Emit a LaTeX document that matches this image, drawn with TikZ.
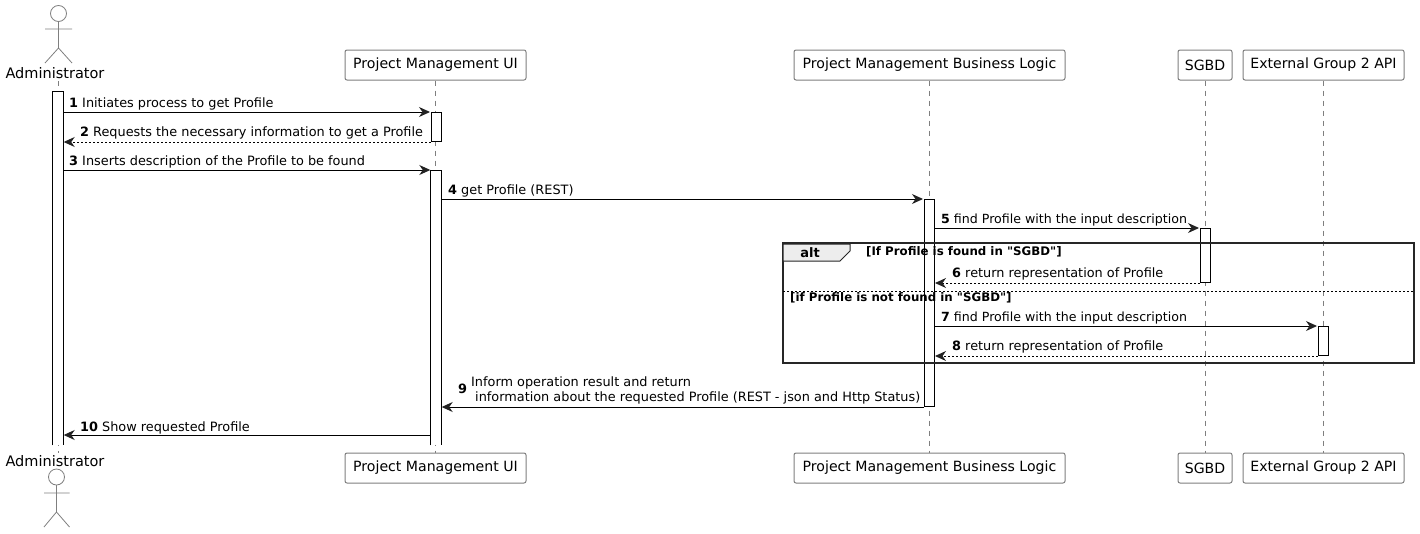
\documentclass[tikz,border=0pt]{standalone}
\usepackage{fontspec}
\setmainfont{DejaVu Sans}
\newfontfamily\guardfont{DejaVu Sans}
\usetikzlibrary{arrows.meta, positioning, calc}
\definecolor{edgegray}{HTML}{7F7F7F}
\definecolor{inkdark}{HTML}{222222}
\begin{document}
\begin{tikzpicture}[
    x=1pt, y=-1pt,
    participant/.style={draw=edgegray, fill=white, rounded corners=2pt, line width=1pt, minimum height=30pt, inner sep=0pt, font=\fontsize{14.1}{16}\selectfont},
    actorlabel/.style={inner sep=0pt, anchor=base, font=\fontsize{14.5}{16}\selectfont},
    lifeline/.style={draw=edgegray, line width=0.8pt, dash pattern=on 5pt off 5pt},
    actorline/.style={draw=edgegray, line width=0.8pt},
    activation/.style={draw=black, fill=white, line width=1pt, minimum width=10pt, inner sep=0pt, anchor=north},
    openbar/.style={fill=white, minimum width=10pt, inner sep=0pt, anchor=north},
    msg/.style={draw=black, line width=1pt, -{Stealth[length=11pt, width=10pt, inset=3.5pt, inkdark]}, shorten >=0.5pt},
    reply/.style={msg, dash pattern=on 2pt off 2pt},
    msgtext/.style={inner sep=0pt, anchor=base west, font=\fontsize{12.85}{15}\selectfont},
    guard/.style={inner sep=0pt, anchor=base west, font=\fontsize{11.8}{13}\guardfont\bfseries}
]
\useasboundingbox (0,0) rectangle (1420,533);

% Participants
\node[participant, minimum width=181pt] (ui) at (435.5,65) {Project Management UI};
\node[participant, minimum width=271pt] (bl) at (929.5,65) {Project Management Business Logic};
\node[participant, minimum width=54pt] (db) at (1205,65) {SGBD};
\node[participant, minimum width=161pt] (api) at (1323.5,65) {External Group 2 API};
\node[participant, minimum width=181pt] (uib) at (435.5,468) {Project Management UI};
\node[participant, minimum width=271pt] (blb) at (929.5,468) {Project Management Business Logic};
\node[participant, minimum width=54pt] (dbb) at (1205,468) {SGBD};
\node[participant, minimum width=161pt] (apib) at (1323.5,468) {External Group 2 API};
\node[actorlabel] (admin) at (55,78) {Administrator};
\node[actorlabel] (adminb) at (55,466) {Administrator};

% Actors
\draw[actorline] (58.5,13.5) circle (8pt);
\draw[actorline] (58.5,21.5) -- (58.5,48) (45,29) -- (72,29) (45,63) -- (58.5,48) -- (72,63);
\draw[actorline] (56.5,477) circle (8pt);
\draw[actorline] (56.5,485) -- (56.5,512) (44,493) -- (69.5,493) (44,527) -- (56.5,512) -- (69.5,527);

% Lifelines
\coordinate (admintop) at (58,81);
\coordinate (adminbot) at (58,453);
\draw[lifeline] (admintop) -- (adminbot);
\draw[lifeline] (ui) -- (uib);
\draw[lifeline] (bl) -- (blb);
\draw[lifeline] (db) -- (dbb);
\draw[lifeline] (api) -- (apib);

% Activations
\node[openbar, minimum height=354pt] (baradmin) at (58,91) {};
\draw[line width=1pt] (baradmin.south west) -- (baradmin.north west) -- (baradmin.north east) -- (baradmin.south east);
\node[activation, minimum height=29pt] (baruia) at (436,112) {};
\node[openbar, minimum height=275pt] (baruib) at (436,170) {};
\draw[line width=1pt] (baruib.south west) -- (baruib.north west) -- (baruib.north east) -- (baruib.south east);
\node[activation, minimum height=207pt] (barbl) at (929,199) {};
\node[activation, minimum height=54pt] (bardb) at (1205,228) {};
\node[activation, minimum height=29pt] (barapi) at (1323,326) {};

% Alt frame
\draw[line width=2pt, draw=black!85] (782.5,243) rectangle (1414,362.5);
\coordinate (tabstart) at (783,244);
\filldraw[fill=black!7, draw=black!85, line width=1pt] (tabstart) -- (850,244) -- (850,251) -- (840,261) -- (783,261) -- cycle;
\node[inner sep=0pt, anchor=base, font=\fontsize{13}{15}\selectfont\bfseries] (alttag) at (810,257) {alt};
\node[guard] (guardfound) at (866,255.5) {[If Profile is found in "SGBD"]};
\coordinate (elsestart) at (783,291);
\coordinate (elseend) at (1414,291);
\draw[line width=1pt, dash pattern=on 2pt off 2pt] (elsestart) -- (elseend);
\node[guard] (guardnot) at (790,301) {[if Profile is not found in "SGBD"]};

% Messages
\coordinate (m9) at (barbl.south west);
\coordinate (m10) at (baruib.west |- 0,435);
\draw[msg] (baradmin.east |- baruia.north) -- (baruia.north west);
\draw[reply] (baruia.south west) -- (baradmin.east |- baruia.south);
\draw[msg] (baradmin.east |- baruib.north) -- (baruib.north west);
\draw[msg] (baruib.east |- barbl.north) -- (barbl.north west);
\draw[msg] (barbl.east |- bardb.north) -- (bardb.north west);
\draw[reply] (bardb.south west) -- (barbl.east |- bardb.south);
\draw[msg] (barbl.east |- barapi.north) -- (barapi.north west);
\draw[reply] (barapi.south west) -- (barbl.east |- barapi.south);
\draw[msg] (m9) -- (baruib.east |- m9);
\draw[msg] (m10) -- (baradmin.east |- m10);

% Message labels
\node[msgtext] (t1) at (69,107) {\textbf{1} Initiates process to get Profile};
\node[msgtext] (t2) at (80,136) {\textbf{2} Requests the necessary information to get a Profile};
\node[msgtext] (t3) at (69,165) {\textbf{3} Inserts description of the Profile to be found};
\node[msgtext] (t4) at (448,194) {\textbf{4} get Profile (REST)};
\node[msgtext, font=\fontsize{12.6}{15}\selectfont] (t5) at (941,223.5) {\textbf{5} find Profile with the input description};
\node[msgtext] (t6) at (952,277) {\textbf{6} return representation of Profile};
\node[msgtext, font=\fontsize{12.6}{15}\selectfont] (t7) at (941,321) {\textbf{7} find Profile with the input description};
\node[msgtext] (t8) at (952,350) {\textbf{8} return representation of Profile};
\node[msgtext] (t9) at (458,393) {\textbf{9}};
\node[msgtext] (t9a) at (471,386) {Inform operation result and return};
\node[msgtext] (t9b) at (475,401) {information about the requested Profile (REST - json and Http Status)};
\node[msgtext] (t10) at (80,431) {\textbf{10} Show requested Profile};

\end{tikzpicture}
\end{document}
